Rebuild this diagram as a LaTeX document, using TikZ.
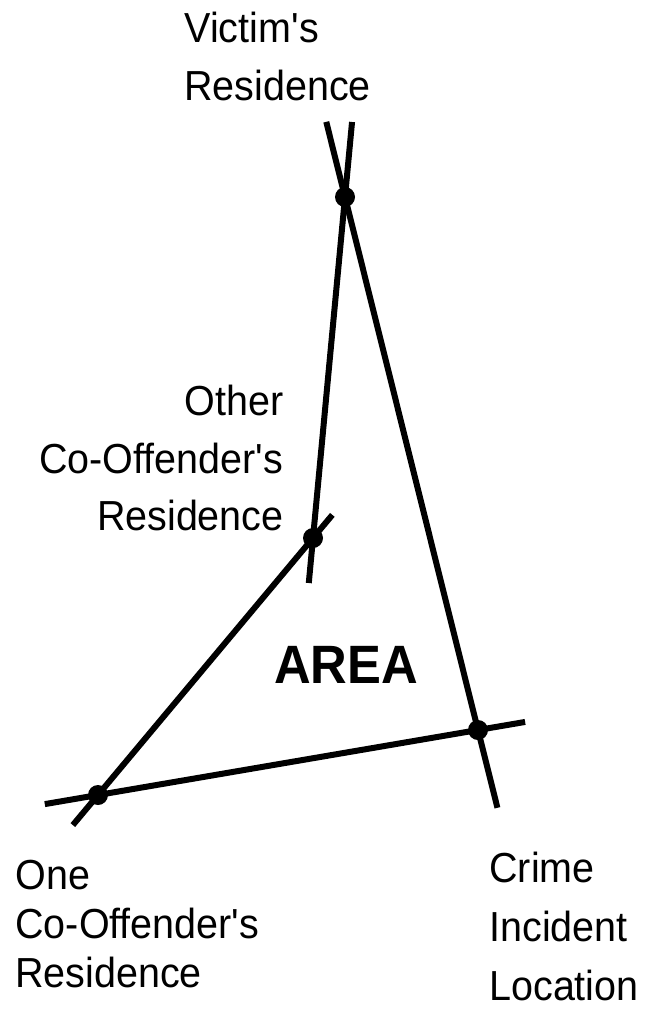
\documentclass[tikz,border=0pt]{standalone}
\usepackage{fontspec}
\setmainfont{Liberation Sans}[FakeStretch=0.94]
\usetikzlibrary{calc}
\begin{document}
\begin{tikzpicture}[
    x=0.5pt,
    y=-0.5pt,
    linea/.style={line width=3pt},
    punto/.style={
        circle,
        fill=black,
        inner sep=0pt,
        minimum size=10pt
    },
    etiqueta/.style={
        inner sep=0pt,
        align=left
    }
]
    \useasboundingbox (0,0) rectangle (648,1017);

    \node[punto] (victima) at (345,197) {};
    \node[punto] (otro) at (313,538) {};
    \node[punto] (uno) at (98,795) {};
    \node[punto] (crimen) at (478,730) {};

    \draw[linea] ($(victima)!-0.141!(crimen)$) -- ($(crimen)!-0.146!(victima)$);
    \draw[linea] ($(victima)!-0.22!(otro)$) -- ($(otro)!-0.132!(victima)$);
    \draw[linea] ($(otro)!-0.09!(uno)$) -- ($(uno)!-0.117!(otro)$);
    \draw[linea] ($(uno)!-0.14!(crimen)$) -- ($(crimen)!-0.124!(uno)$);

    \node[etiqueta, anchor=north west, font=\fontsize{21}{29}\selectfont]
        (victimaTxt) at (184,12) {Victim\textquotesingle{}s\\Residence};
    \node[etiqueta, align=right, anchor=north east, font=\fontsize{21}{28.75}\selectfont]
        (otroTxt) at (284,385) {Other\\Co-Offender\textquotesingle{}s\\Residence};
    \node[etiqueta, anchor=north west, font=\fontsize{21}{24.5}\selectfont]
        (unoTxt) at (15,860) {One\\Co-Offender\textquotesingle{}s\\Residence};
    \node[etiqueta, anchor=north west, font=\fontsize{21}{29.5}\selectfont]
        (crimenTxt) at (489,852) {Crime\\Incident\\Location};

    \node[font=\fontsize{27}{32}\bfseries\selectfont] (area) at (346,665) {AREA};
\end{tikzpicture}
\end{document}
